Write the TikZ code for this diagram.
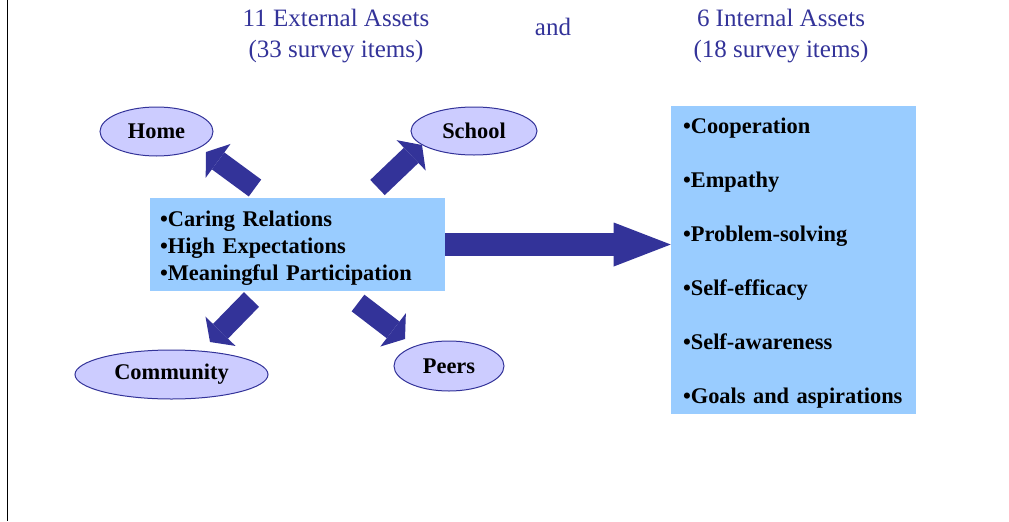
\documentclass[tikz,border=0pt]{standalone}
\usepackage{fontspec}
\setmainfont{Liberation Serif}
\usetikzlibrary{shapes.geometric,arrows.meta}
\definecolor{assetblue}{HTML}{333399}
\definecolor{ovalfill}{HTML}{CCCCFF}
\definecolor{boxfill}{HTML}{99CCFF}
\newcommand{\firstline}{\rule{0pt}{16.5pt}}
\tikzset{
        place/.style={ellipse,draw=assetblue,line width=0.75pt,fill=ovalfill,inner sep=0pt,
                font=\bfseries\fontsize{16.8}{19}\selectfont},
        listbox/.style={fill=boxfill,align=left,inner ysep=0pt,font=\bfseries\fontsize{16.8}{20.25}\selectfont},
        smallarrow/.style={draw=assetblue,line width=15.75pt,
                -{Triangle[width=31.5pt,length=11.25pt,line width=0pt,fill=assetblue]}},
        bigarrow/.style={draw=assetblue,line width=17.25pt,
                -{Triangle[width=33pt,length=42.75pt,line width=0pt,fill=assetblue]}},
        title/.style={text=assetblue,align=center,font=\fontsize{18.75}{23.25}\selectfont}
}
\begin{document}
\begin{tikzpicture}[x=0.75pt,y=-0.75pt]
        \useasboundingbox (0,0) rectangle (1009,521);
        \draw [line width=0.75pt] (7.5,0) -- (7.5,521);
        \node [title] (ext) at (336,36) {11 External Assets\\(33 survey items)};
        \node [title] (and) at (553,27) {and};
        \node [title] (int) at (781,36) {6 Internal Assets\\(18 survey items)};
        \node [place,minimum width=84.75pt,minimum height=36.75pt] (home) at (156.5,131.5) {Home};
        \node [place,minimum width=94.5pt,minimum height=36pt] (school) at (474,131) {School};
        \node [place,minimum width=144.75pt,minimum height=36.75pt] (community) at (171.5,374.5) {Community};
        \node [place,minimum width=82.5pt,minimum height=37.5pt] (peers) at (449,366) {Peers};
        \node [listbox,text width=206.25pt,inner xsep=7.5pt,minimum height=69.75pt] (lbox) at (297.5,244.5)
                {\firstline•Caring Relations\\•High Expectations\\•Meaningful Participation};
        \node [listbox,text width=165.75pt,inner xsep=9pt,minimum height=231pt,
                font=\bfseries\fontsize{16.8}{40.5}\selectfont] (rbox) at (793.5,260)
                {\firstline•Cooperation\\•Empathy\\•Problem-solving\\•Self-efficacy\\•Self-awareness\\•Goals and aspirations};
        \coordinate (hometail) at (255,188);
        \coordinate (hometip) at (206,152);
        \coordinate (schooltail) at (377.5,187.5);
        \coordinate (schooltip) at (422,145);
        \coordinate (communitytail) at (251.5,299.5);
        \coordinate (communitytip) at (210,342);
        \coordinate (peerstail) at (358,303);
        \coordinate (peerstip) at (405,339);
        \draw [smallarrow] (hometail) -- (hometip);
        \draw [smallarrow] (schooltail) -- (schooltip);
        \draw [smallarrow] (communitytail) -- (communitytip);
        \draw [smallarrow] (peerstail) -- (peerstip);
        \draw [bigarrow] (lbox.east) -- (lbox.east -| rbox.west);
\end{tikzpicture}
\end{document}
